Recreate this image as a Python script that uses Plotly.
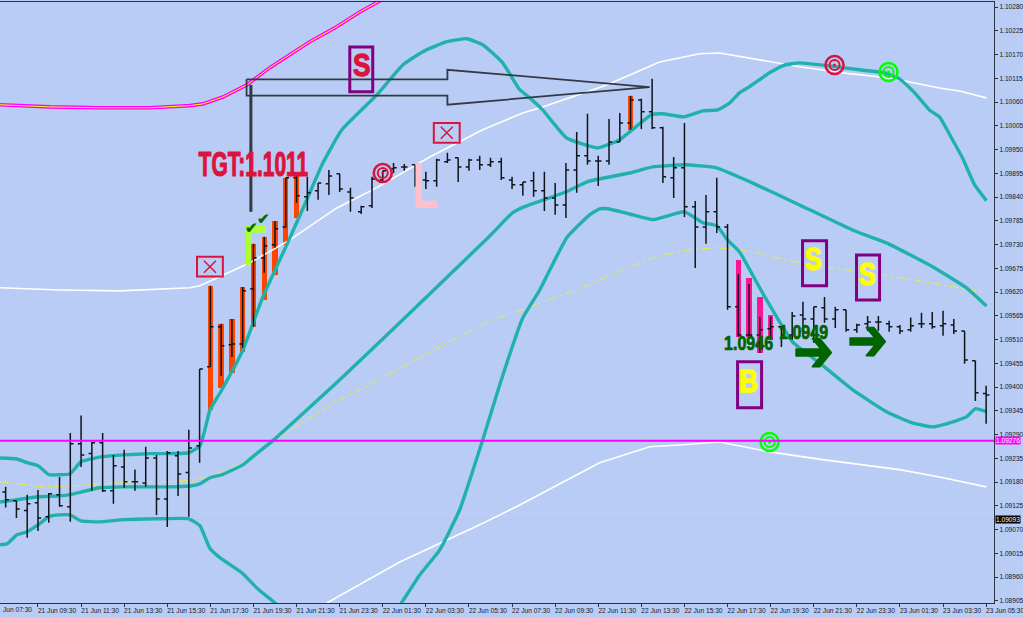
import plotly.graph_objects as go
import json

# --- OHLC bars (30 minute) ---
bar_open = [1.09157,1.09137,1.09114,1.09132,1.09100,1.09151,1.09123,1.09269,1.09246,1.09271,1.09160,1.09215,1.09181,1.09178,1.09236,1.09141,1.09241,1.09202,1.09264,
1.09447,1.09540,1.09498,1.09500,1.09628,1.09699,1.09730,1.09771,1.09885,1.09841,1.09855,1.09871,1.09894,1.09852,1.09806,1.09820,1.09880,1.09906,1.09910,1.09915,
1.09880,1.09878,1.09922,1.09931,1.09910,1.09926,1.09915,1.09922,1.09880,1.09869,1.09878,1.09855,1.09838,1.09822,1.09903,1.09936,1.09924,1.09924,1.09968,1.10012,
1.10065,1.10038,1.10001,1.09885,1.09908,1.09818,1.09771,1.09806,1.09771,1.09586,1.09521,1.09521,1.09535,1.09540,1.09521,1.09567,1.09558,1.09584,1.09558,1.09579,
1.09533,1.09547,1.09551,1.09547,1.09540,1.09533,1.09547,1.09547,1.09542,1.09544,1.09530,1.09461,1.09385]
bar_high = [1.09169,1.09137,1.09151,1.09162,1.09155,1.09192,1.09294,1.09334,1.09273,1.09294,1.09243,1.09255,1.09209,1.09262,1.09243,1.09252,1.09252,1.09301,1.09442,
1.09635,1.09547,1.09558,1.09632,1.09732,1.09748,1.09785,1.09885,1.09896,1.09887,1.09873,1.09903,1.09894,1.09862,1.09820,1.09887,1.09901,1.09919,1.09917,1.09915,
1.09899,1.09929,1.09943,1.09931,1.09929,1.09936,1.09931,1.09931,1.09887,1.09875,1.09899,1.09899,1.09873,1.09919,1.09991,1.10033,1.09936,1.10021,1.10035,1.10075,
1.10068,1.10114,1.10003,1.09933,1.10012,1.09831,1.09845,1.09885,1.09778,1.09662,1.09639,1.09563,1.09563,1.09540,1.09574,1.09598,1.09586,1.09609,1.09586,1.09579,
1.09547,1.09565,1.09565,1.09554,1.09544,1.09561,1.09572,1.09574,1.09577,1.09558,1.09530,1.09461,1.09403]
bar_low = [1.09121,1.09097,1.09051,1.09067,1.09086,1.09123,1.09088,1.09215,1.09160,1.09157,1.09130,1.09167,1.09160,1.09169,1.09104,1.09076,1.09148,1.09100,1.09225,
1.09447,1.09426,1.09470,1.09491,1.09540,1.09665,1.09723,1.09769,1.09827,1.09808,1.09834,1.09845,1.09852,1.09806,1.09801,1.09815,1.09875,1.09896,1.09901,1.09864,
1.09859,1.09864,1.09919,1.09875,1.09901,1.09903,1.09910,1.09880,1.09859,1.09843,1.09841,1.09808,1.09799,1.09792,1.09850,1.09915,1.09866,1.09915,1.09968,1.09996,
1.09998,1.09998,1.09873,1.09838,1.09794,1.09676,1.09732,1.09757,1.09579,1.09517,1.09517,1.09479,1.09510,1.09493,1.09510,1.09517,1.09503,1.09549,1.09537,1.09528,
1.09526,1.09530,1.09530,1.09528,1.09523,1.09528,1.09537,1.09535,1.09519,1.09523,1.09454,1.09368,1.09315]
bar_close = [1.09139,1.09118,1.09130,1.09097,1.09153,1.09125,1.09269,1.09243,1.09271,1.09160,1.09218,1.09181,1.09181,1.09236,1.09141,1.09248,1.09199,1.09259,1.09442,
1.09540,1.09496,1.09500,1.09623,1.09699,1.09727,1.09767,1.09885,1.09843,1.09850,1.09873,1.09889,1.09859,1.09838,1.09818,1.09882,1.09901,1.09908,1.09910,1.09882,
1.09878,1.09926,1.09926,1.09910,1.09926,1.09915,1.09922,1.09885,1.09869,1.09875,1.09855,1.09838,1.09822,1.09903,1.09936,1.09924,1.09924,1.09968,1.10012,1.10065,
1.10038,1.10001,1.09887,1.09908,1.09818,1.09771,1.09806,1.09771,1.09586,1.09521,1.09521,1.09533,1.09540,1.09521,1.09565,1.09558,1.09586,1.09558,1.09579,1.09533,
1.09544,1.09551,1.09551,1.09540,1.09530,1.09542,1.09547,1.09540,1.09547,1.09530,1.09463,1.09387,1.09382]

# --- coloured signal bars ---
orange_x = [19,20,21,22,23,24,25,26,27,58]
orange_hi = [1.09635,1.09547,1.09558,1.09632,1.09732,1.09748,1.09785,1.09885,1.09896,1.10075]
orange_lo = [1.09347,1.09398,1.09433,1.09482,1.09540,1.09602,1.09660,1.09730,1.09792,1.09996]
pink_x = [68,69,70,71]
pink_hi = [1.09695,1.09653,1.09609,1.09567]
pink_lo = [1.09517,1.09517,1.09479,1.09510]

# --- bands ---
upper_x = [-0.52,0.96,1.98,3.0,4.02,4.95,5.97,6.99,8.01,9.03,10.98,13.39,14.97,17.0,18.03,18.49,18.96,20.07,22.02,23.87,26.1,27.95,29.44,31.2,34.45,36.86,38.71,40.94,42.79,44.28,46.13,47.71,48.64,49.84,52.07,54.95,56.99,59.95,60.98,62.92,64.69,66.08,67.19,68.12,69.05,70.9,72.29,73.68,76.47,79.25,81.57,82.96,84.35,85.74,86.67,87.88,88.8,89.92,91.03]
upper_y = [1.09236,1.09234,1.09225,1.09218,1.09197,1.09197,1.09199,1.09227,1.09234,1.09239,1.09243,1.09246,1.09246,1.09248,1.09264,1.09301,1.09347,1.09394,1.09486,1.09609,1.09730,1.09834,1.09919,1.09996,1.10077,1.10146,1.10177,1.10200,1.10207,1.10193,1.10151,1.10089,1.10070,1.10042,1.09977,1.09954,1.09973,1.10031,1.10033,1.10026,1.10040,1.10042,1.10058,1.10082,1.10096,1.10128,1.10146,1.10151,1.10144,1.10135,1.10128,1.10114,1.10082,1.10042,1.10026,1.09973,1.09931,1.09869,1.09832]
mid_x = [-0.52,0.96,3.0,4.95,5.97,6.99,8.75,10.98,14.97,17.1,18.03,18.96,20.07,22.02,22.94,24.8,31.01,36.86,44.93,47.06,48.17,51.98,54.02,57.91,60.05,63.02,65.98,69.05,73.68,78.6,81.75,86.02,89.17,91.03]
mid_y = [1.09134,1.09139,1.09146,1.09148,1.09151,1.09157,1.09167,1.09169,1.09169,1.09171,1.09176,1.09190,1.09197,1.09220,1.09239,1.09276,1.09417,1.09556,1.09750,1.09804,1.09818,1.09852,1.09876,1.09896,1.09910,1.09915,1.09908,1.09876,1.09822,1.09764,1.09734,1.09679,1.09630,1.09588]
lower_x = [-0.52,0.12,1.05,1.98,3.0,4.02,4.95,5.97,6.99,8.75,10.98,14.04,17.0,18.03,18.96,19.88,21.92,23.31,25.0,27.3,31.01,34.72,36.86,38.43,40.29,42.14,44.28,45.85,47.99,49.57,52.07,54.2,55.13,55.87,57.91,60.05,63.02,64.69,65.98,67.0,68.12,70.25,73.03,75.54,78.6,81.75,84.16,86.02,87.32,89.17,90.01,91.03]
lower_y = [1.09035,1.09037,1.09058,1.09065,1.09081,1.09100,1.09104,1.09104,1.09090,1.09088,1.09093,1.09095,1.09095,1.09079,1.09026,1.09005,1.08970,1.08935,1.08900,1.08849,1.08792,1.08833,1.08905,1.08965,1.09023,1.09116,1.09278,1.09405,1.09560,1.09625,1.09746,1.09799,1.09813,1.09813,1.09801,1.09788,1.09806,1.09781,1.09774,1.09741,1.09713,1.09618,1.09505,1.09456,1.09394,1.09343,1.09317,1.09308,1.09315,1.09331,1.09350,1.09343]
white_up_x = [-0.52,5.04,10.61,17.1,18.03,20.16,22.67,26.38,30.74,34.45,39.36,44.28,47.99,49.84,55.78,60.7,64.41,66.26,69.97,73.68,78.32,82.03,86.67,88.52,91.03]
white_up_y = [1.09630,1.09625,1.09623,1.09630,1.09635,1.09660,1.09688,1.09741,1.09815,1.09862,1.09933,1.09996,1.10035,1.10049,1.10100,1.10153,1.10172,1.10174,1.10158,1.10142,1.10126,1.10116,1.10093,1.10086,1.10070]
white_lo_x = [29.81,31.01,36.58,44.0,47.71,55.13,59.77,62.55,66.26,70.9,75.82,82.96,86.67,91.03]
white_lo_y = [1.08900,1.08917,1.08995,1.09081,1.09127,1.09225,1.09262,1.09266,1.09273,1.09250,1.09232,1.09209,1.09192,1.09169]
sma_x = [-0.52,1.33,3.46,5.97,8.75,11.81,14.97,17.75,19.23,21.74,24.52,31.01,32.87,44.65,53.0,57.26,60.42,63.48,65.98,68.77,73.68,78.6,84.16,91.03]
sma_y = [1.09181,1.09176,1.09169,1.09171,1.09176,1.09181,1.09181,1.09185,1.09197,1.09220,1.09271,1.09371,1.09394,1.09551,1.09625,1.09672,1.09702,1.09718,1.09723,1.09716,1.09688,1.09669,1.09649,1.09618]
trend_x = [-0.52,4.11,8.75,13.39,17.1,18.31,20.16,22.39,24.52,26.38,28.23,30.55,32.87,34.91]
trend_y = [1.10054,1.10049,1.10047,1.10047,1.10052,1.10056,1.10072,1.10100,1.10140,1.10170,1.10200,1.10232,1.10269,1.10297]

# --- drawing objects ---
arrow_x = [22.36,41.0,41.0,59.77,41.0,41.0,22.36,22.36]
arrow_y = [1.10113,1.10113,1.10135,1.10095,1.10054,1.10075,1.10075,1.10113]
stem_x = [22.76,22.76]
stem_y = [1.10100,1.09806]
level_magenta = 1.09276
level_grey = 1.09093

red_target_x = [35.0,76.93]
red_target_y = [1.09896,1.10146]
green_target_x = [81.94,70.9]
green_target_y = [1.10130,1.09273]
cross_x = [18.96,40.94]
cross_y = [1.09679,1.09989]
sign_x0 = [31.94,73.96,78.97,67.93]
sign_x1 = [34.07,76.19,81.11,70.16]
sign_y0 = [1.10084,1.09635,1.09602,1.09352]
sign_y1 = [1.10188,1.09739,1.09706,1.09459]

y_ticks_start, y_ticks_step = 1.08905, 0.00055
x_tick_idx = list(range(3, 92, 4))
x_tick_text = ["21 Jun 09:30","21 Jun 11:30","21 Jun 13:30","21 Jun 15:30","21 Jun 17:30","21 Jun 19:30","21 Jun 21:30","21 Jun 23:30",
"22 Jun 01:30","22 Jun 03:30","22 Jun 05:30","22 Jun 07:30","22 Jun 09:30","22 Jun 11:30","22 Jun 13:30","22 Jun 15:30","22 Jun 17:30",
"22 Jun 19:30","22 Jun 21:30","22 Jun 23:30","23 Jun 01:30","23 Jun 03:30","23 Jun 05:30"]

# label: text, x, y, size, colour, x-stretch, y-stretch, outline
labels = [
 ("L",38.99,1.09866,64,"#FFC0CB",0.66,1.0,0),
 ("L",23.08,1.09727,58,"#ADFF2F",0.66,-1.0,0),
 ("TGT:1.1011",23.04,1.09917,35,"#DC143C",0.60,1.0,1.2),
 ("S",33.0,1.10145,32,"#DC143C",0.82,1.0,1.3),
 ("S",74.98,1.09695,31,"#FFFF00",0.82,1.0,1.3),
 ("S",79.99,1.09660,31,"#FFFF00",0.82,1.0,1.3),
 ("B",68.95,1.09415,32,"#FFFF00",0.82,1.0,1.3),
 ("1.0946",68.95,1.09503,20,"#006400",0.80,1.0,0.7),
 ("1.0949",74.06,1.09528,20,"#006400",0.80,1.0,0.7),
]
glyphs = [
 ("\u2794",74.98,1.09484,42,"#006400",1.15,1.4,1.2),
 ("\u2794",79.99,1.09510,42,"#006400",1.15,1.4,1.2),
 ("\u2714",22.85,1.09769,15,"#006400",1,1,0.4),
 ("\u2714",23.96,1.09790,15,"#006400",1,1,0.4),
]

BG = "#B8CCF5"
TEAL = "#20B2AA"
INK = "#10151c"
xr = [-0.525, 91.73]
yr = [1.08900, 1.10292]

fig = go.Figure()
fig.add_bar(x=orange_x, y=[h-l for h,l in zip(orange_hi,orange_lo)], base=orange_lo, width=0.5,
            marker=dict(color="#FF4500", line=dict(width=0)))
fig.add_bar(x=pink_x, y=[h-l for h,l in zip(pink_hi,pink_lo)], base=pink_lo, width=0.5,
            marker=dict(color="#FF1493", line=dict(width=0)))
fig.add_scatter(x=white_up_x, y=white_up_y, mode="lines", line=dict(color="white", width=1.6))
fig.add_scatter(x=white_lo_x, y=white_lo_y, mode="lines", line=dict(color="white", width=1.6))
fig.add_scatter(x=sma_x, y=sma_y, mode="lines", line=dict(color="#E6EE45", width=1, dash="dashdot"))
fig.add_scatter(x=trend_x, y=trend_y, mode="lines", line=dict(color="#FF00FF", width=3.6))
fig.add_scatter(x=trend_x, y=trend_y, mode="lines", line=dict(color="#FFFF00", width=1))
for lx, ly in ((upper_x,upper_y),(mid_x,mid_y),(lower_x,lower_y)):
    fig.add_scatter(x=lx, y=ly, mode="lines", line=dict(color=TEAL, width=3.4, shape="spline", smoothing=0.4))

fig.add_trace(go.Ohlc(x=list(range(len(bar_open))), open=bar_open, high=bar_high, low=bar_low, close=bar_close,
                      tickwidth=0.3, yaxis="y2",
                      increasing=dict(line=dict(color=INK, width=1.5)),
                      decreasing=dict(line=dict(color=INK, width=1.5))))
fig.add_scatter(x=arrow_x, y=arrow_y, yaxis="y2", mode="lines", line=dict(color="#333a44", width=1.8))
fig.add_scatter(x=stem_x, y=stem_y, yaxis="y2", mode="lines", line=dict(color="#333a44", width=3))

for tx, ty, col in ((red_target_x, red_target_y, "#DC143C"), (green_target_x, green_target_y, "#00FF00")):
    fig.add_scatter(x=tx, y=ty, yaxis="y2", mode="markers", marker=dict(symbol="circle-open", size=18, color=col, line=dict(color=col, width=2.6)))
    fig.add_scatter(x=tx, y=ty, yaxis="y2", mode="markers", marker=dict(symbol="circle-open", size=10, color=col, line=dict(color=col, width=2)))
    fig.add_scatter(x=tx, y=ty, yaxis="y2", mode="markers", marker=dict(symbol="circle", size=3, color=col))
fig.add_scatter(x=cross_x, y=cross_y, yaxis="y2", mode="markers",
                marker=dict(symbol="x-thin-open", size=12, color="#DC143C", line=dict(color="#DC143C", width=1.5)))

shapes = [
    dict(type="line", xref="paper", x0=0, x1=1, yref="y", y0=level_grey, y1=level_grey, line=dict(color="#c4c8cc", width=1), layer="below"),
    dict(type="line", xref="paper", x0=0, x1=1, yref="y", y0=level_magenta, y1=level_magenta, line=dict(color="#FF00FF", width=2)),
]
for cx, cy in zip(cross_x, cross_y):
    shapes.append(dict(type="rect", xref="x", yref="y", x0=cx-1.2, x1=cx+1.2, y0=cy-0.00023, y1=cy+0.00023,
                       line=dict(color="#DC143C", width=2)))
for a, b, c, d in zip(sign_x0, sign_x1, sign_y0, sign_y1):
    shapes.append(dict(type="rect", xref="x", yref="y", x0=a, x1=b, y0=c, y1=d, line=dict(color="#800080", width=3)))

annotations = []
stretch = []
for t, x, y, s, c, sx, sy, o in labels:
    annotations.append(dict(text=t, x=x, y=y, xref="x", yref="y", showarrow=False,
                            font=dict(family="Liberation Sans", size=s, color=c, weight=700)))
    stretch.append([sx, sy, o, c])
for t, x, y, s, c, sx, sy, o in glyphs:
    annotations.append(dict(text=t, x=x, y=y, xref="x", yref="y", showarrow=False,
                            font=dict(family="DejaVu Sans", size=s, color=c)))
    stretch.append([sx, sy, o, c])
axis_font = dict(family="Liberation Sans", size=6.6, color="#141a22")
annotations.append(dict(text="Jun 07:30", xref="paper", yref="paper", x=0.001, y=0, xanchor="left", yanchor="top", yshift=-1,
                        showarrow=False, font=axis_font))
stretch.append([1, 1, 0, ""])
annotations.append(dict(text=f"{level_magenta:.5f}", xref="paper", yref="y", x=1, y=level_magenta, xanchor="left", xshift=1,
                        showarrow=False, bgcolor="#FF00FF", borderpad=0, font=dict(family="Liberation Sans", size=6.6, color="#ffffff")))
stretch.append([1, 1, 0, ""])
annotations.append(dict(text=f"{level_grey:.5f}", xref="paper", yref="y", x=1, y=level_grey, xanchor="left", xshift=1,
                        showarrow=False, bgcolor="#000000", borderpad=0, font=dict(family="Liberation Sans", size=6.6, color="#ffffff")))
stretch.append([1, 1, 0, ""])

fig.update_layout(
    width=1023, height=618, margin=dict(l=0, r=28.5, t=2, b=15, autoexpand=False),
    paper_bgcolor=BG, plot_bgcolor=BG, showlegend=False, bargap=0,
    shapes=shapes, annotations=annotations,
    xaxis=dict(range=xr, rangeslider=dict(visible=False), showgrid=False, zeroline=False, showline=True, mirror=True,
               linecolor="#2a3340", linewidth=1.2, ticks="outside", ticklen=3, tickcolor="#2a3340",
               tickmode="array", tickvals=x_tick_idx, ticktext=x_tick_text, tickfont=axis_font, tickangle=0,
               ticklabelshift=19, ticklabelstandoff=-2, ticklabeloverflow="allow", automargin=False),
    yaxis=dict(range=yr, side="right", showgrid=False, zeroline=False, showline=True, linecolor="#2a3340", linewidth=1.2,
               ticks="outside", ticklen=3, tickcolor="#2a3340", tick0=y_ticks_start, dtick=y_ticks_step,
               tickformat=".5f", tickfont=axis_font, ticklabeloverflow="allow", automargin=False),
    yaxis2=dict(range=yr, overlaying="y", side="right", visible=False, automargin=False),
)

post = """
document.documentElement.style.margin='0';document.body.style.margin='0';document.body.style.background='%s';
(function(){var gd=document.getElementById('{plot_id}');var st=%s;
function ap(){st.forEach(function(s,i){var g=gd.querySelector('.annotation[data-index="'+i+'"] text.annotation-text');
if(!g)return;
if(s[2]>0){g.style.stroke=s[3];g.style.strokeWidth=s[2]+'px';g.style.strokeLinejoin='round';}
if(s[0]==1&&s[1]==1)return;
var b=g.getBBox();var cx=b.x+b.width/2,cy=b.y+b.height/2;
g.setAttribute('transform','translate('+cx+' '+cy+') scale('+s[0]+' '+s[1]+') translate('+(-cx)+' '+(-cy)+')');});}
ap();setTimeout(ap,50);setTimeout(ap,300);})();
""" % (BG, json.dumps(stretch))
fig.write_html("out.html", post_script=post, config=dict(displayModeBar=False))
